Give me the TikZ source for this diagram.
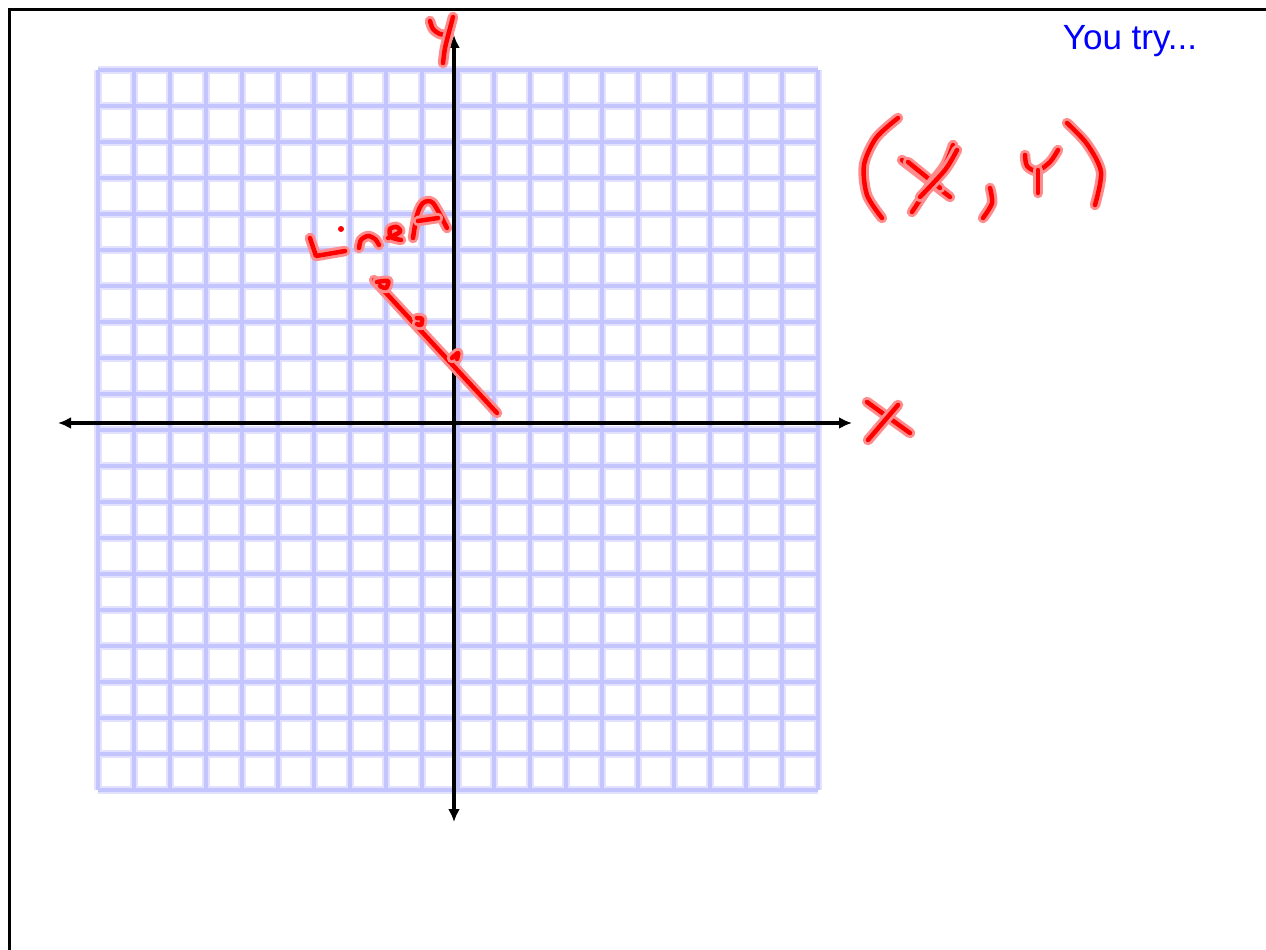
\documentclass[tikz,border=0pt]{standalone}
\usepackage{fontspec}
\setmainfont{Liberation Sans}
\usetikzlibrary{arrows.meta}
\definecolor{gridblue}{RGB}{196,196,255}
\definecolor{gridhalo}{RGB}{226,226,255}
\definecolor{inkred}{RGB}{255,0,0}
\definecolor{inkhalo}{RGB}{255,140,140}
\definecolor{tryblue}{RGB}{0,0,255}
\tikzset{
  gridline/.style={draw=gridblue,line width=4.5pt,line cap=square,preaction={draw=gridhalo,line width=7.5pt,line cap=square}},
  axis/.style={draw=black,line width=3.5pt,{Latex[length=13pt,width=12pt]}-{Latex[length=13pt,width=12pt]}},
  pen/.style={draw=inkred,line width=4.5pt,line cap=round,line join=round,
    preaction={draw=inkhalo,line width=10.5pt,line cap=round,line join=round}},
  frame/.style={draw=black,line width=3pt},
}

\begin{document}
\begin{tikzpicture}[x=1pt,y=-1pt]
    \clip (0,0) rectangle (1266,950);
    \fill[white] (0,0) rectangle (1266,950);
    \draw[frame] (9,970) -- (9,10) -- (1290,10);
    % grid paper
    \path[gridline] \foreach \k in {0,...,20} {(98+36*\k,70) -- (98+36*\k,790) (98,70+36*\k) -- (818,70+36*\k)};
    % axes
    \coordinate (xmin) at (58,423);
    \coordinate (xmax) at (852,423);
    \coordinate (ymin) at (454,822);
    \coordinate (ymax) at (454,35);
    \draw[axis] (xmin) -- (xmax);
    \draw[axis] (ymin) -- (ymax);
    % axis letters
    \draw[pen] plot[smooth] coordinates {(430,21) (433,29) (440,34) (449,35)};
    \draw[pen] plot[smooth] coordinates {(453,17) (449,32) (445,48) (443,63)};
    \draw[pen] (867,402) -- (910,433);
    \draw[pen] (898,405) -- (868,440);
    % (x, y)
    \draw[pen] plot[smooth] coordinates {(898,118) (876,138) (864,165) (867,195) (882,218)};
    \draw[pen] (902,160) -- (950,197);
    \draw[pen] (908,162) -- (940,188);
    \draw[pen] plot[smooth] coordinates {(953,145) (945,165) (930,185) (912,212)};
    \draw[pen] plot[smooth] coordinates {(957,150) (945,170) (920,197)};
    \draw[pen] plot[smooth] coordinates {(990,188) (992,203) (983,218)};
    \draw[pen] plot[smooth] coordinates {(1025,155) (1027,166) (1037,171) (1050,162) (1058,150)};
    \draw[pen] (1038,170) -- (1038,193);
    \draw[pen] plot[smooth] coordinates {(1067,123) (1087,144) (1101,172) (1095,205)};
    % LineA
    \draw[pen] (310,238) -- (316,256) -- (345,251);
    \fill[inkred] (341,229) circle (3);
    \draw[pen] plot[smooth] coordinates {(359,248) (361,240) (368,236) (375,239) (379,245)};
    \draw[pen] plot[smooth] coordinates {(388,238) (400,232) (397,227) (390,229) (391,237) (401,240)};
    \draw[pen] plot[smooth] coordinates {(413,238) (417,215) (423,203) (433,203) (447,228)};
    \draw[pen] (418,221) -- (438,218);
    \draw[pen] (374,280) -- (497,413);
    \draw[pen] plot[smooth] coordinates {(377,282) (388,281) (386,288) (380,286)};
    \draw[pen] plot[smooth] coordinates {(417,318) (422,319) (421,325) (417,324)};
    \draw[pen] plot[smooth] coordinates {(452,358) (458,353) (457,359)};
    % note
    \node[text=tryblue,font=\fontsize{35}{42}\selectfont] (tryme) at (1130,41) {You try...};
\end{tikzpicture}
\end{document}
